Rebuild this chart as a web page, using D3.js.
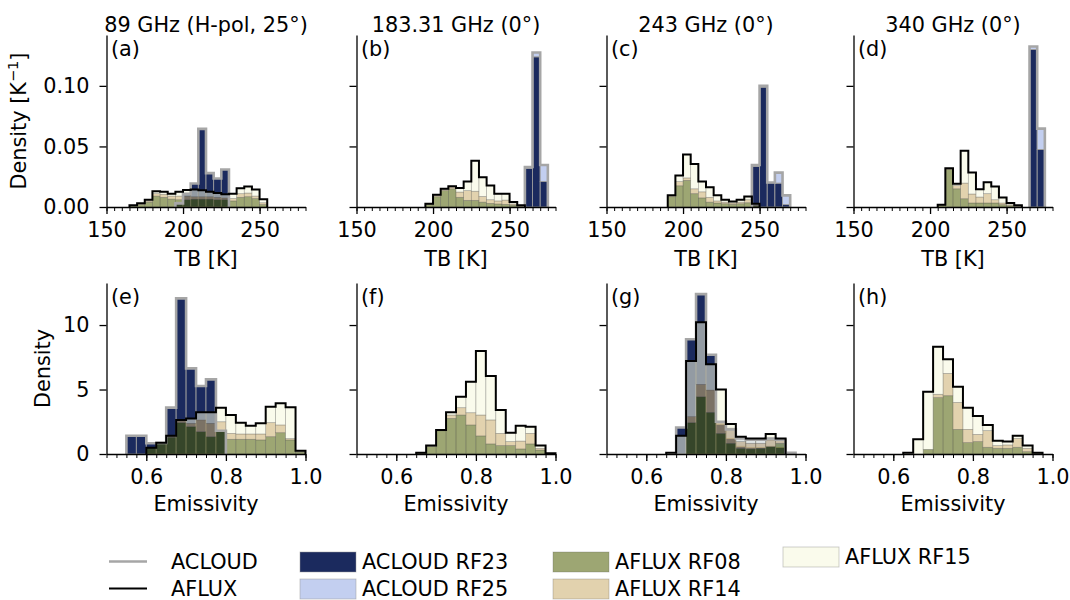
<!DOCTYPE html>
<html><head><meta charset="utf-8">
<script src="https://cdn.jsdelivr.net/npm/d3@7"></script>
<style>body{margin:0;background:#fff} svg{display:block} text{font-family:"DejaVu Sans",sans-serif;fill:#000}</style>
</head><body><svg id="c" width="1070" height="600"></svg>
<script>
// ---------- data ----------
const tbBinStart = 150, tbBinWidth = 5;      // 26 bins, 150..280 K
const emBinStart = 0.5, emBinWidth = 0.025;  // 20 bins, 0.5..1.0
const titles = ["89 GHz (H-pol, 25°)", "183.31 GHz (0°)", "243 GHz (0°)", "340 GHz (0°)"];
const letters = ["(a)","(b)","(c)","(d)","(e)","(f)","(g)","(h)"];
const tbTicks = [150, 200, 250];
const tbDensityTicks = [0, 0.05, 0.10];
const emTicks = [0.6, 0.8, 1.0];
const emDensityTicks = [0, 5, 10];

// (a) 89 GHz TB
const a_RF23 = [0,0,0,0,0,0,0,0,0,0.003,0.011,0.0194,0.0645,0.028,0.0235,0.031,0,0,0,0,0,0,0,0,0,0];
const a_RF25 = [0,0,0,0,0,0,0,0,0,0,0,0,0,0,0,0,0,0,0,0,0,0,0,0,0,0];
const a_RF08 = [0,0,0,0.0008,0.002,0.004,0.009,0.008,0.0065,0.006,0.006,0.0065,0.0065,0.0065,0.006,0.006,0.005,0.008,0.0085,0.007,0.002,0,0,0,0,0];
const a_RF14 = [0,0,0,0.0003,0.0005,0.001,0.002,0.0025,0.0025,0.003,0.003,0.002,0.002,0.002,0.002,0.0015,0.002,0.003,0.003,0.002,0.0015,0,0,0,0,0];
const a_RF15 = [0,0,0,0.0003,0.0005,0.001,0.002,0.002,0.002,0.0035,0.005,0.006,0.0053,0.004,0.0035,0.003,0.004,0.0045,0.0055,0.0055,0.003,0,0,0,0,0];
// (b) 183.31 GHz TB
const b_RF23 = [0,0,0,0,0,0,0,0,0,0,0,0,0,0,0,0,0,0,0,0,0,0,0.032,0.124,0.021,0];
const b_RF25 = [0,0,0,0,0,0,0,0,0,0,0,0,0,0,0,0,0,0,0,0,0,0,0.001,0.0035,0.0137,0];
const b_RF08 = [0,0,0,0,0,0,0,0,0,0.0022,0.0085,0.0135,0.015,0.008,0.0055,0.0055,0.004,0.003,0.0025,0.0022,0.0015,0.0005,0,0,0,0];
const b_RF14 = [0,0,0,0,0,0,0,0,0,0.0003,0.001,0.001,0.0015,0.0043,0.008,0.0075,0.0047,0.003,0.0025,0.0035,0.001,0.0004,0,0,0,0];
const b_RF15 = [0,0,0,0,0,0,0,0,0,0.0002,0.0006,0.0005,0.0007,0.0033,0.0075,0.0252,0.0159,0.0117,0.0059,0.0052,0.0016,0.0005,0,0,0,0];
// (c) 243 GHz TB
const c_RF23 = [0,0,0,0,0,0,0,0,0,0,0,0,0,0,0,0,0,0,0,0.0335,0.099,0.02,0.0197,0.002,0,0];
const c_RF25 = [0,0,0,0,0,0,0,0,0,0,0,0,0,0,0,0,0,0,0,0.0012,0.001,0.0002,0.0087,0.0076,0,0];
const c_RF08 = [0,0,0,0,0,0,0,0,0.0085,0.0175,0.022,0.011,0.0075,0.004,0.0033,0.0027,0.0022,0.0027,0.0035,0.001,0,0,0,0,0,0];
const c_RF14 = [0,0,0,0,0,0,0,0,0.0008,0.0035,0.002,0.004,0.005,0.004,0.0017,0.0013,0.0011,0.0013,0.0025,0.0005,0,0,0,0,0,0];
const c_RF15 = [0,0,0,0,0,0,0,0,0.0003,0.005,0.0194,0.0205,0.0085,0.0084,0.0046,0.002,0.0013,0.002,0.0027,0.0012,0,0,0,0,0,0];
// (d) 340 GHz TB
const d_RF23 = [0,0,0,0,0,0,0,0,0,0,0,0,0,0,0,0,0,0,0,0,0,0,0,0.13,0.0475,0];
const d_RF25 = [0,0,0,0,0,0,0,0,0,0,0,0,0,0,0,0,0,0,0,0,0,0,0,0.0025,0.0172,0];
const d_RF08 = [0,0,0,0,0,0,0,0,0,0,0,0.0015,0.031,0.015,0.0068,0.0033,0.0033,0.0033,0.0033,0.0019,0.001,0.0005,0,0,0,0];
const d_RF14 = [0,0,0,0,0,0,0,0,0,0,0,0.0002,0.0005,0.0027,0.0129,0.0074,0.0049,0.0077,0.0027,0.0014,0.0008,0.0003,0,0,0,0];
const d_RF15 = [0,0,0,0,0,0,0,0,0,0,0,0.0002,0.0005,0.0014,0.0267,0.0177,0.0065,0.0095,0.0109,0.0046,0.0015,0.0006,0,0,0,0];
// (e) 89 GHz emissivity
const e_RF23 = [0,0,1.42,1.42,0.83,0.85,3.6,12.07,6.64,5.27,5.79,1.8,0,0,0,0,0,0,0,0];
const e_RF25 = [0,0,0,0,0,0,0,0,0,0,0,0,0,0,0,0,0,0,0,0];
const e_RF08 = [0,0,0,0,0.49,0.88,1.3,2.43,2.12,1.73,1.34,1.73,1.14,1.14,1.14,1.09,1.34,1.65,1.09,0.15];
const e_RF14 = [0,0,0,0,0,0,0.12,0.15,0.26,0.91,1.04,0.77,0.46,0.41,0.41,0.46,1.09,0.6,0.1,0.05];
const e_RF15 = [0,0,0,0,0,0,0,0.06,0.38,0.59,0.85,1.09,1.42,0.88,0.65,0.83,1.24,1.68,2.43,0.06];
// (f) 183.31 GHz emissivity
const f_RF23 = [0,0,0,0,0,0,0,0,0,0,0,0,0,0,0,0,0,0,0,0];
const f_RF25 = [0,0,0,0,0,0,0,0,0,0,0,0,0,0,0,0,0,0,0,0];
const f_RF08 = [0,0,0,0,0,0,0.08,0.57,1.8,2.76,3.02,2.25,1.4,0.78,0.65,0.65,0.39,0.78,0.31,0.03];
const f_RF14 = [0,0,0,0,0,0,0.01,0.04,0.03,0.26,0.57,0.95,1.62,1.86,0.95,0.31,0.61,0.82,0.13,0.01];
const f_RF15 = [0,0,0,0,0,0,0.01,0.04,0.03,0.21,0.85,2.41,4.96,3.41,1.81,0.69,1.2,0.52,0.21,0.01];
// (g) 243 GHz emissivity
const g_RF23 = [0,0,0,0,0,0,0,2.05,8.9,12.4,7.7,2.3,1.2,0.6,0.5,0.5,0.6,0.5,0,0];
const g_RF25 = [0,0,0,0,0,0,0,0,0,0,0,0.2,0.7,0.6,0.6,0.6,0.6,0.6,0.1,0];
const g_RF08 = [0,0,0,0,0,0,0,0,2.43,4.44,3.23,1.6,0.83,0.44,0.39,0.44,0.57,0.83,0,0];
const g_RF14 = [0,0,0,0,0,0,0,0,0.47,0.96,1.73,0.9,1.17,0.52,0.44,0.39,0.52,0.26,0,0];
const g_RF15 = [0,0,0,0,0,0,0.1,1.42,4.31,4.81,1.99,2.51,0.33,0.38,0.38,0.38,0.46,0.12,0,0];
// (h) 340 GHz emissivity
const h_RF23 = [0,0,0,0,0,0,0,0,0,0,0,0,0,0,0,0,0,0,0,0];
const h_RF25 = [0,0,0,0,0,0,0,0,0,0,0,0,0,0,0,0,0,0,0,0];
const h_RF08 = [0,0,0,0,0,0,0,0.36,4.37,4.52,1.91,0.88,0.96,0.52,0.44,0.44,0.52,0.18,0.03,0];
const h_RF14 = [0,0,0,0,0,0,0,0,0.26,1.73,2.09,1.03,0.56,1.29,0.21,0.26,0.69,0.26,0.05,0];
const h_RF15 = [0,0,0,0,0,0.1,1.14,4.47,3.69,1.09,1.22,1.68,1.43,0.44,0.38,0.26,0.21,0.21,0.02,0];

const panelData = [
  {RF23:a_RF23,RF25:a_RF25,RF08:a_RF08,RF14:a_RF14,RF15:a_RF15},
  {RF23:b_RF23,RF25:b_RF25,RF08:b_RF08,RF14:b_RF14,RF15:b_RF15},
  {RF23:c_RF23,RF25:c_RF25,RF08:c_RF08,RF14:c_RF14,RF15:c_RF15},
  {RF23:d_RF23,RF25:d_RF25,RF08:d_RF08,RF14:d_RF14,RF15:d_RF15},
  {RF23:e_RF23,RF25:e_RF25,RF08:e_RF08,RF14:e_RF14,RF15:e_RF15},
  {RF23:f_RF23,RF25:f_RF25,RF08:f_RF08,RF14:f_RF14,RF15:f_RF15},
  {RF23:g_RF23,RF25:g_RF25,RF08:g_RF08,RF14:g_RF14,RF15:g_RF15},
  {RF23:h_RF23,RF25:h_RF25,RF08:h_RF08,RF14:h_RF14,RF15:h_RF15}
];

// ---------- styles ----------
const FS = 20.8;
const colors = {RF23:"#1b2a5e", RF25:"#c3cff0", RF08:"#4d5d00", RF14:"#caad6c", RF15:"#f6f8dd"};
const aflAlpha = 0.55;
const acloudLine = "#a6a6a6";
const colX = [106.5, 356.5, 606.5, 853.5], axW = 199;
const rows = [
  {top:35, bottom:207, xdom:[150,280], ydom:[0,0.142], binStart:tbBinStart, binW:tbBinWidth,
   xTicks:tbTicks, yTicks:tbDensityTicks, xfmt:d3.format("d"), yfmt:d3.format(".2f"),
   nMinor:27, xlabel:"TB [K]", xlabelY:266, ylabelX:26},
  {top:283, bottom:454, xdom:[0.5,1.0], ydom:[0,13.26], binStart:emBinStart, binW:emBinWidth,
   xTicks:emTicks, yTicks:emDensityTicks, xfmt:d3.format(".1f"), yfmt:d3.format("d"),
   nMinor:21, xlabel:"Emissivity", xlabelY:511, ylabelX:50}
];

const svg = d3.select("#c");

panelData.forEach((p, idx) => {
  const r = Math.floor(idx/4), c = idx % 4, row = rows[r];
  const x = d3.scaleLinear().domain(row.xdom).range([colX[c], colX[c]+axW]);
  const y = d3.scaleLinear().domain(row.ydom).range([row.bottom, row.top]);
  const g = svg.append("g");
  const bins = p.RF08.map((_, i) => ({
    x0: row.binStart + i*row.binW, x1: row.binStart + (i+1)*row.binW,
    RF23: p.RF23[i], RF25: p.RF25[i], RF08: p.RF08[i], RF14: p.RF14[i], RF15: p.RF15[i]}));
  const acl = d3.stack().keys(["RF23","RF25"])(bins);
  const afl = d3.stack().keys(["RF08","RF14","RF15"])(bins);

  acl.forEach(layer => {
    g.append("g").selectAll("rect").data(layer.filter(d => d[1] > d[0])).join("rect")
      .attr("x", d => x(d.data.x0)).attr("width", d => x(d.data.x1) - x(d.data.x0))
      .attr("y", d => y(d[1])).attr("height", d => y(d[0]) - y(d[1]))
      .attr("fill", colors[layer.key]).attr("stroke", "#9a9a9a").attr("stroke-width", 0.9);
  });
  afl.forEach(layer => {
    g.append("g").selectAll("rect").data(layer.filter(d => d[1] > d[0])).join("rect")
      .attr("x", d => x(d.data.x0)).attr("width", d => x(d.data.x1) - x(d.data.x0))
      .attr("y", d => y(d[1])).attr("height", d => y(d[0]) - y(d[1]))
      .attr("fill", colors[layer.key]).attr("fill-opacity", aflAlpha)
      .attr("stroke", "#555").attr("stroke-opacity", 0.35).attr("stroke-width", 0.7);
  });

  const step = (keys, color, w) => {
    const tot = bins.map(b => d3.sum(keys, k => b[k]));
    const nz = tot.map((v,i) => v > 0 ? i : -1).filter(i => i >= 0);
    if (!nz.length) return;
    const pts = [[bins[nz[0]].x0, 0]];
    for (let i = nz[0]; i <= nz[nz.length-1]; i++) { pts.push([bins[i].x0, tot[i]]); pts.push([bins[i].x1, tot[i]]); }
    pts.push([bins[nz[nz.length-1]].x1, 0]);
    g.append("path").attr("d", d3.line().x(d => x(d[0])).y(d => y(d[1]))(pts))
      .attr("fill", "none").attr("stroke", color).attr("stroke-width", w).attr("stroke-linejoin", "miter");
  };
  step(["RF23","RF25"], acloudLine, 2.6);
  step(["RF08","RF14","RF15"], "#000", 2);

  // axes
  const xa = g.append("g").attr("transform", `translate(0,${row.bottom})`);
  xa.call(d3.axisBottom(x).tickValues(d3.range(row.nMinor).map(i => row.binStart + i*row.binW))
      .tickSize(4).tickSizeOuter(0).tickFormat(""));
  xa.select(".domain").remove();
  xa.selectAll("line").attr("stroke-width", 1);
  const xm = g.append("g").attr("transform", `translate(0,${row.bottom})`);
  xm.call(d3.axisBottom(x).tickValues(row.xTicks).tickSize(7).tickPadding(8).tickSizeOuter(0).tickFormat(row.xfmt));
  xm.select(".domain").attr("stroke-width", 1.3);
  xm.selectAll("line").attr("stroke-width", 1.3);
  xm.selectAll("text").attr("font-size", FS).attr("font-family", "DejaVu Sans");
  const ya = g.append("g").attr("transform", `translate(${colX[c]},0)`);
  ya.call(d3.axisLeft(y).tickValues(row.yTicks).tickSize(7).tickPadding(10).tickSizeOuter(0)
      .tickFormat(c === 0 ? row.yfmt : ""));
  ya.select(".domain").attr("stroke-width", 1.3);
  ya.selectAll("line").attr("stroke-width", 1.3);
  ya.selectAll("text").attr("font-size", FS).attr("font-family", "DejaVu Sans");

  svg.append("text").attr("x", colX[c] + 4.5).attr("y", row.top + 21).attr("font-size", FS).text(letters[idx]);
  svg.append("text").attr("x", colX[c] + axW/2).attr("y", row.xlabelY).attr("text-anchor", "middle")
    .attr("font-size", FS).text(row.xlabel);
  if (r === 0) svg.append("text").attr("x", colX[c] + axW/2).attr("y", 32).attr("text-anchor", "middle")
    .attr("font-size", FS).text(titles[c]);
  if (c === 0) {
    const t = svg.append("text").attr("transform", `translate(${row.ylabelX},${(row.top+row.bottom)/2}) rotate(-90)`)
      .attr("text-anchor", "middle").attr("font-size", FS);
    if (r === 0) {
      t.append("tspan").text("Density [K");
      t.append("tspan").attr("font-size", FS*0.7).attr("dy", -8).text("−1");
      t.append("tspan").attr("dy", 8).text("]");
    } else t.text("Density");
  }
});

// ---------- legend ----------
const legendLines = [{label:"ACLOUD", color:acloudLine, y:561.5}, {label:"AFLUX", color:"#000", y:588.5}];
legendLines.forEach(d => {
  svg.append("line").attr("x1", 109).attr("x2", 147).attr("y1", d.y).attr("y2", d.y)
    .attr("stroke", d.color).attr("stroke-width", d.color === "#000" ? 2 : 2.6);
  svg.append("text").attr("x", 171).attr("y", d.y + 7).attr("font-size", FS).text(d.label);
});
const legendPatches = [
  {key:"RF23", label:"ACLOUD RF23", x:300, y:552, op:1},
  {key:"RF25", label:"ACLOUD RF25", x:300, y:579, op:1},
  {key:"RF08", label:"AFLUX RF08", x:553, y:552, op:aflAlpha},
  {key:"RF14", label:"AFLUX RF14", x:553, y:579, op:aflAlpha},
  {key:"RF15", label:"AFLUX RF15", x:783, y:547, op:aflAlpha}
];
legendPatches.forEach(d => {
  svg.append("rect").attr("x", d.x).attr("y", d.y).attr("width", 56).attr("height", 20)
    .attr("fill", colors[d.key]).attr("fill-opacity", d.op)
    .attr("stroke", d.op === 1 ? "#9a9a9a" : "#555").attr("stroke-opacity", d.op === 1 ? 0.6 : 0.35).attr("stroke-width", 0.8);
  svg.append("text").attr("x", d.x + 62).attr("y", d.y + 16.5).attr("font-size", FS).text(d.label);
});
</script></body></html>
